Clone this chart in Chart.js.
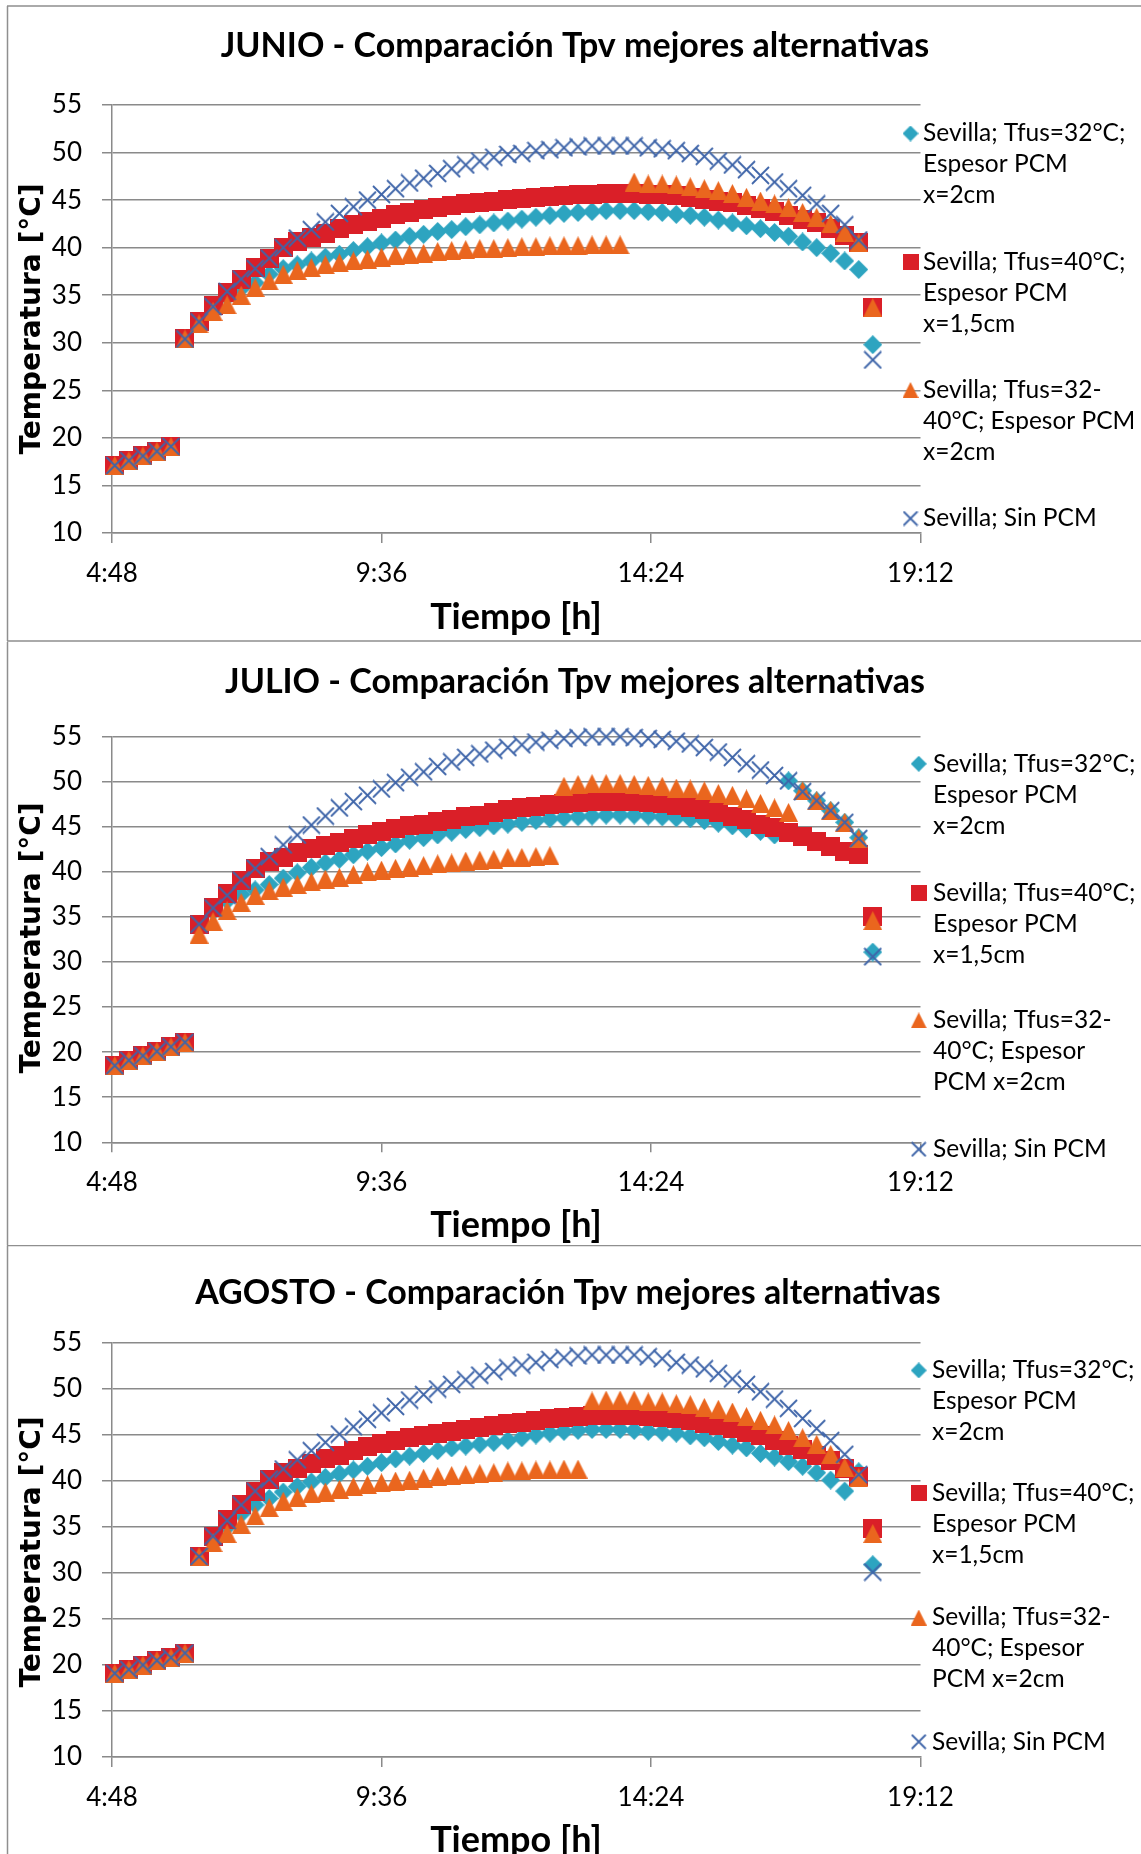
<!DOCTYPE html>
<html>
<head>
<meta charset="utf-8">
<script src="https://cdn.jsdelivr.net/npm/chart.js@4.4.1/dist/chart.umd.min.js"></script>
<style>
  html, body { margin: 0; padding: 0; background: #fff; overflow: hidden; }
  #page { position: relative; width: 1141px; height: 1854px; }
  canvas { position: absolute; left: 0; }
</style>
</head>
<body>
<div id="page">
  <canvas id="junio" width="1141" height="642" style="top:0px"></canvas>
  <canvas id="julio" width="1141" height="603" style="top:642px"></canvas>
  <canvas id="agosto" width="1141" height="609" style="top:1245px"></canvas>
</div>
<script>
// Hora de cada registro (cada 15 minutos)
const horas = ['4:51','5:06','5:21','5:36','5:51','6:06','6:21','6:36','6:51','7:06','7:21','7:36','7:51',
  '8:06','8:21','8:36','8:51','9:06','9:21','9:36','9:51','10:06','10:21','10:36','10:51','11:06','11:21',
  '11:36','11:51','12:06','12:21','12:36','12:51','13:06','13:21','13:36','13:51','14:06','14:21','14:36',
  '14:51','15:06','15:21','15:36','15:51','16:06','16:21','16:36','16:51','17:06','17:21','17:36','17:51',
  '18:06','18:21'];

// Marcas del eje X (h:mm)
const marcasX = ['4:48', '9:36', '14:24', '19:12'];

// ---- JUNIO: temperatura del panel [°C] ----
const junioTfus32 = [17.1,17.6,18.1,18.6,19.1,30.4,32.1,33.6,34.8,35.7,36.3,37.2,37.8,38.2,38.6,39.0,39.3,39.7,40.1,
  40.5,40.8,41.2,41.4,41.7,41.9,42.2,42.4,42.6,42.8,43.0,43.2,43.4,43.6,43.7,43.8,43.9,43.9,43.9,43.8,43.7,43.5,
  43.4,43.2,42.9,42.6,42.3,42.0,41.6,41.2,40.6,40.0,39.4,38.6,37.7,29.8];
const junioTfus40 = [17.1,17.6,18.1,18.6,19.1,30.4,32.2,33.9,35.3,36.7,37.9,38.9,40.0,40.6,41.1,41.5,42.0,42.4,42.8,
  43.1,43.5,43.7,44.0,44.2,44.4,44.6,44.8,44.9,45.1,45.2,45.3,45.4,45.5,45.6,45.6,45.7,45.7,45.7,45.6,45.6,45.5,
  45.3,45.1,44.9,44.7,44.4,44.1,43.8,43.4,43.0,42.6,42.0,41.3,40.5,33.7];
const junioTfus3240 = [17.1,17.6,18.1,18.6,19.1,30.4,32.0,33.3,34.0,35.0,35.8,36.5,37.2,37.6,37.9,38.2,38.4,38.6,38.8,
  39.0,39.2,39.3,39.4,39.6,39.7,39.8,39.9,39.9,40.0,40.1,40.1,40.2,40.2,40.2,40.3,40.3,40.3,46.9,46.7,46.7,46.6,
  46.4,46.2,46.0,45.7,45.3,44.9,44.6,44.2,43.7,43.2,42.5,41.6,40.5,33.7];
const junioSinPCM = [17.1,17.6,18.1,18.6,19.1,30.4,32.2,33.8,35.4,36.7,37.8,38.9,40.0,41.0,41.9,42.7,43.6,44.3,45.0,
  45.6,46.2,46.8,47.3,47.8,48.3,48.7,49.1,49.5,49.8,49.9,50.2,50.3,50.5,50.6,50.7,50.7,50.7,50.7,50.5,50.4,50.2,
  49.9,49.6,49.1,48.7,48.2,47.6,46.9,46.2,45.5,44.6,43.6,42.4,40.8,28.2];

// ---- JULIO ----
const julioTfus32 = [18.5,19.1,19.6,20.1,20.6,21.1,34.0,35.6,36.8,37.5,38.0,38.6,39.3,39.9,40.5,41.0,41.4,41.9,42.3,
  42.7,43.1,43.5,43.8,44.1,44.4,44.7,44.9,45.1,45.3,45.5,45.7,45.9,46.0,46.1,46.2,46.3,46.3,46.3,46.2,46.1,46.0,
  45.9,45.7,45.4,45.1,44.8,44.5,44.1,50.1,49.0,47.9,46.8,45.5,43.8,31.1];
const julioTfus40 = [18.5,19.1,19.6,20.1,20.6,21.1,34.2,36.0,37.6,39.1,40.4,41.1,41.6,42.1,42.6,42.9,43.3,43.7,44.1,
  44.5,44.8,45.1,45.3,45.6,45.8,46.1,46.3,46.6,46.9,47.1,47.3,47.5,47.6,47.7,47.8,47.8,47.8,47.8,47.7,47.6,47.4,
  47.2,46.9,46.6,46.2,45.8,45.3,44.9,44.4,43.9,43.4,42.8,42.3,41.9,35.0];
const julioTfus3240 = [18.5,19.1,19.6,20.1,20.6,21.1,33.1,34.5,35.7,36.6,37.4,37.9,38.3,38.6,38.9,39.2,39.4,39.7,40.0,
  40.2,40.4,40.5,40.7,40.9,41.0,41.2,41.3,41.4,41.6,41.6,41.7,41.8,49.5,49.7,49.8,49.8,49.8,49.7,49.6,49.5,49.3,
  49.2,49.0,48.7,48.5,48.1,47.6,47.1,46.6,49.0,47.9,46.8,45.5,43.7,34.6];
const julioSinPCM = [18.5,19.1,19.6,20.1,20.6,21.1,34.2,36.0,37.4,39.1,40.4,41.7,43.0,44.1,45.2,46.2,47.1,47.8,48.5,
  49.2,49.9,50.5,51.1,51.7,52.2,52.7,53.1,53.5,53.8,54.1,54.4,54.6,54.8,54.9,55.0,55.0,55.0,54.9,54.8,54.7,54.5,
  54.2,53.8,53.3,52.7,52.0,51.3,50.7,50.1,48.9,47.9,46.8,45.5,43.7,30.6];

// ---- AGOSTO ----
const agostoTfus32 = [19.1,19.5,20.0,20.5,20.8,21.3,31.8,33.6,35.0,36.4,37.4,38.1,38.8,39.4,39.9,40.4,40.8,41.2,41.6,
  42.0,42.4,42.7,43.0,43.3,43.6,43.8,44.0,44.2,44.4,44.7,45.0,45.2,45.4,45.5,45.6,45.6,45.6,45.5,45.4,45.3,45.2,
  44.9,44.7,44.3,43.9,43.6,43.0,42.6,42.1,41.6,40.9,40.1,38.9,41.0,30.9];
const agostoTfus40 = [19.1,19.5,20.0,20.5,20.8,21.3,31.8,34.0,35.8,37.4,38.9,40.2,40.9,41.4,41.9,42.4,42.8,43.3,43.7,
  44.1,44.4,44.7,44.9,45.2,45.4,45.6,45.8,46.0,46.2,46.4,46.6,46.8,46.9,47.0,47.1,47.1,47.1,47.1,47.0,46.9,46.8,
  46.6,46.3,46.0,45.7,45.3,44.9,44.4,43.9,43.4,42.8,42.2,41.4,40.5,34.8];
const agostoTfus3240 = [19.1,19.5,20.0,20.5,20.8,21.3,31.8,33.3,34.3,35.3,36.2,37.1,37.8,38.2,38.6,38.8,39.1,39.4,39.6,
  39.8,40.0,40.1,40.3,40.5,40.6,40.7,40.8,40.9,41.1,41.1,41.2,41.2,41.3,41.3,48.7,48.8,48.8,48.8,48.6,48.6,48.4,
  48.3,48.0,47.8,47.5,47.0,46.6,46.1,45.5,44.7,44.0,42.9,41.5,40.4,34.3];
const agostoSinPCM = [19.1,19.5,20.0,20.5,20.8,21.3,31.8,34.0,35.7,37.4,38.9,40.2,41.3,42.3,43.3,44.2,45.1,45.9,46.7,
  47.4,48.1,48.8,49.4,50.0,50.5,51.0,51.5,51.9,52.3,52.6,52.9,53.2,53.4,53.6,53.7,53.7,53.7,53.7,53.5,53.3,52.9,
  52.6,52.2,51.7,51.1,50.5,49.7,48.9,47.9,46.8,45.7,44.4,42.9,40.7,30.1];

// Nombres de las series
const series = ['Sevilla; Tfus=32°C; Espesor PCM x=2cm', 'Sevilla; Tfus=40°C; Espesor PCM x=1,5cm',
  'Sevilla; Tfus=32-40°C; Espesor PCM x=2cm', 'Sevilla; Sin PCM'];

// ---------------------------------------------------------------------------
const aMinutos = h => { const [a, b] = h.split(':').map(Number); return a * 60 + b; };
const tiempo = horas.map(aMinutos);
const ejeX = marcasX.map(aMinutos);
const fmtHora = v => Math.floor(v / 60) + ':' + String(Math.round(v % 60)).padStart(2, '0');

const colores = { rombo: '#2da4c0', cuadrado: '#da1f28', triangulo: '#ea661e', aspa: '#3f65a9' };
const GRIS = '#8a8a8a';

function marca(tipo, s) {
  const c = document.createElement('canvas');
  c.width = s; c.height = s;
  const g = c.getContext('2d');
  g.fillStyle = colores[tipo];
  g.strokeStyle = colores[tipo];
  g.beginPath();
  if (tipo === 'rombo') {
    g.moveTo(s / 2, 0); g.lineTo(s, s / 2); g.lineTo(s / 2, s); g.lineTo(0, s / 2); g.closePath(); g.fill();
  } else if (tipo === 'cuadrado') {
    g.fillRect(0, 0, s, s);
  } else if (tipo === 'triangulo') {
    g.moveTo(s / 2, 0); g.lineTo(s, s); g.lineTo(0, s); g.closePath(); g.fill();
  } else {
    g.lineWidth = 1.8;
    g.moveTo(1, 1); g.lineTo(s - 1, s - 1); g.moveTo(s - 1, 1); g.lineTo(1, s - 1); g.stroke();
  }
  return c;
}
const tipos = ['rombo', 'cuadrado', 'triangulo', 'aspa'];
const puntos = Object.fromEntries(tipos.map(t => [t, marca(t, 19)]));
const leyendaMarcas = Object.fromEntries(tipos.map(t => [t, marca(t, 16)]));

// Rotulos, marco y leyenda de cada panel
const decoracion = {
  id: 'decoracion',
  beforeDraw(chart, args, o) {
    const ctx = chart.ctx;
    ctx.save();
    ctx.fillStyle = '#fff';
    ctx.fillRect(0, 0, chart.width, chart.height);
    ctx.strokeStyle = '#8f8f8f';
    ctx.lineWidth = 1.5;
    ctx.beginPath();
    ctx.moveTo(7.5, o.marco[0]); ctx.lineTo(7.5, o.marco[1]);
    if (o.marco[2]) { ctx.moveTo(7, o.marco[0]); ctx.lineTo(chart.width, o.marco[0]); }
    if (o.marco[3]) { ctx.moveTo(7, o.marco[1]); ctx.lineTo(chart.width, o.marco[1]); }
    ctx.stroke();
    ctx.restore();
  },
  afterDraw(chart, args, o) {
    const ctx = chart.ctx;
    ctx.save();
    ctx.fillStyle = '#000';
    ctx.textBaseline = 'middle';
    ctx.textAlign = 'center';
    ctx.font = 'bold 34px Lato';
    ctx.fillText(o.titulo, o.tituloPos[0], o.tituloPos[1]);
    ctx.font = 'bold 36px Lato';
    ctx.fillText('Tiempo [h]', o.ejeXPos[0], o.ejeXPos[1]);
    ctx.save();
    ctx.translate(o.ejeYPos[0], o.ejeYPos[1]);
    ctx.rotate(-Math.PI / 2);
    ctx.font = 'bold 28px "DejaVu Sans"';
    ctx.fillText('Temperatura [°C]', 0, 0);
    ctx.restore();

    ctx.textAlign = 'left';
    ctx.font = '24.5px Lato';
    o.leyenda.forEach((lineas, k) => {
      const y0 = o.leyendaY[k];
      const m = leyendaMarcas[tipos[k]];
      ctx.drawImage(m, o.leyendaX[0] - m.width / 2, y0 - m.height / 2);
      lineas.forEach((txt, j) => ctx.fillText(txt, o.leyendaX[1], y0 + j * 31));
    });
    ctx.restore();
  }
};

function grafico(id, valores, area, deco) {
  const canvas = document.getElementById(id);
  const H = canvas.height;
  const datasets = valores.map((vals, k) => ({
    label: series[k],
    data: vals.map((v, i) => ({ x: tiempo[i], y: v })),
    pointStyle: puntos[tipos[k]],
    pointRadius: 10,
    showLine: false,
    clip: false,
    order: 4 - k
  }));
  return new Chart(canvas, {
    type: 'scatter',
    data: { datasets },
    plugins: [decoracion],
    options: {
      responsive: false,
      animation: false,
      devicePixelRatio: 1,
      events: [],
      layout: { padding: { left: 0, top: area.top, right: canvas.width - area.right, bottom: 0 } },
      plugins: {
        legend: { display: false },
        tooltip: { enabled: false },
        decoracion: deco
      },
      scales: {
        x: {
          type: 'linear',
          min: ejeX[0], max: ejeX[ejeX.length - 1],
          afterBuildTicks: s => { s.ticks = ejeX.map(v => ({ value: v })); },
          afterFit: s => { s.height = H - area.bottom; },
          ticks: { callback: v => fmtHora(v), color: '#000', font: { family: 'Lato', size: 26 }, padding: 15, maxRotation: 0, autoSkip: false },
          grid: { drawOnChartArea: false, drawTicks: true, tickLength: 10, color: GRIS, lineWidth: 1.5 },
          border: { color: GRIS, width: 1.5 }
        },
        y: {
          min: 10, max: 55,
          afterFit: s => { s.width = area.left; },
          ticks: { stepSize: 5, color: '#000', font: { family: 'Lato', size: 26 }, padding: 20 },
          grid: { color: GRIS, lineWidth: 1.5, tickLength: 10 },
          border: { color: GRIS, width: 1.5 }
        }
      }
    }
  });
}

const leyendaA = [['Sevilla; Tfus=32°C;', 'Espesor PCM', 'x=2cm'], ['Sevilla; Tfus=40°C;', 'Espesor PCM', 'x=1,5cm'],
  ['Sevilla; Tfus=32-', '40°C; Espesor PCM', 'x=2cm'], ['Sevilla; Sin PCM']];
const leyendaB = [['Sevilla; Tfus=32°C;', 'Espesor PCM', 'x=2cm'], ['Sevilla; Tfus=40°C;', 'Espesor PCM', 'x=1,5cm'],
  ['Sevilla; Tfus=32-', '40°C; Espesor', 'PCM x=2cm'], ['Sevilla; Sin PCM']];

grafico('junio', [junioTfus32, junioTfus40, junioTfus3240, junioSinPCM],
  { left: 112, right: 920.5, top: 105, bottom: 533 },
  { titulo: 'JUNIO - Comparación Tpv mejores alternativas', tituloPos: [575, 46], ejeXPos: [516, 617], ejeYPos: [33, 319],
    leyenda: leyendaA, leyendaX: [910.5, 923], leyendaY: [133.5, 261.7, 390, 518.5], marco: [6, 641, true, true] });

grafico('julio', [julioTfus32, julioTfus40, julioTfus3240, julioSinPCM],
  { left: 112, right: 920.5, top: 94.7, bottom: 500.3 },
  { titulo: 'JULIO - Comparación Tpv mejores alternativas', tituloPos: [575, 40], ejeXPos: [516, 583], ejeYPos: [33, 296],
    leyenda: leyendaB, leyendaX: [918.7, 933], leyendaY: [121.8, 250.7, 378.4, 507.3], marco: [0, 603, false, false] });

grafico('agosto', [agostoTfus32, agostoTfus40, agostoTfus3240, agostoSinPCM],
  { left: 112, right: 920.5, top: 98, bottom: 512 },
  { titulo: 'AGOSTO - Comparación Tpv mejores alternativas', tituloPos: [568, 48], ejeXPos: [516, 595], ejeYPos: [33, 307],
    leyenda: leyendaB, leyendaX: [918.7, 932], leyendaY: [125.4, 248.4, 372.5, 496.7], marco: [0.5, 609, true, false] });
</script>
</body>
</html>
